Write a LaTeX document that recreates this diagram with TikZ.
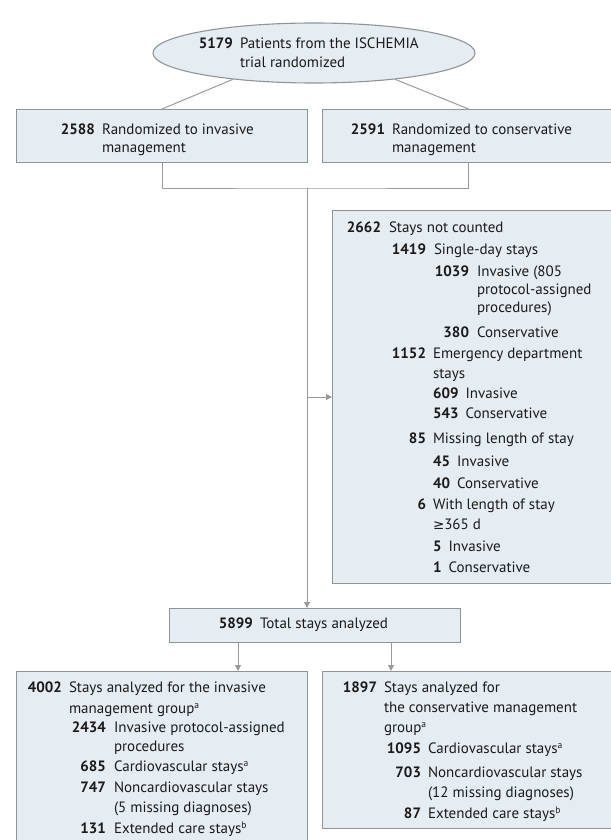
\documentclass[tikz,border=0pt]{standalone}
\usepackage{fontspec}
\setmainfont{PT Sans}
\newfontfamily\symfont{DejaVu Sans}
\usetikzlibrary{arrows.meta,shapes.geometric}
\definecolor{boxfill}{HTML}{E6EDF2}
\definecolor{boxline}{HTML}{8F9499}
\definecolor{conn}{HTML}{9A9A9A}
\definecolor{ink}{HTML}{1A1A1A}
\newcounter{tn}
% right-aligned number: #1 number end x, #2 text x, #3 baseline y, #4 number, #5 text
\newcommand\Rn[5]{\stepcounter{tn}%
  \node[txt,anchor=base east] (n\arabic{tn}) at (#1,#3) {\bfseries #4};%
  \node[txt,anchor=base west] (m\arabic{tn}) at (#2,#3) {#5};}
% left-aligned number: #1 number start x, #2 baseline y, #3 number, #4 text
\newcommand\Ln[4]{\stepcounter{tn}%
  \node[txt,anchor=base west] (n\arabic{tn}) at (#1,#2) {\bfseries #3};%
  \node[txt,anchor=base west,xshift=7pt] (m\arabic{tn}) at (n\arabic{tn}.base east) {#4};}
% plain continuation line
\newcommand\Tx[3]{\stepcounter{tn}%
  \node[txt,anchor=base west] (c\arabic{tn}) at (#1,#2) {#3};}
\newcommand\sups[1]{\raisebox{5pt}{\fontsize{9.5}{10}\selectfont #1}}
\begin{document}
\begin{tikzpicture}[x=1pt,y=-1pt,
  txt/.style={inner sep=0pt,outer sep=0pt,text=ink,font=\fontsize{15}{17}\selectfont},
  box/.style={draw=boxline,line width=1.1pt,fill=boxfill,inner sep=0pt,anchor=north west},
  conline/.style={draw=conn,line width=1pt},
  arr/.style={conline,-{Triangle[length=6pt,width=6pt]}}]
\useasboundingbox (0,0) rectangle (610,840);
% shapes
\node[ellipse,draw=boxline,line width=1.1pt,fill=boxfill,minimum width=322pt,minimum height=60pt,inner sep=0pt] (ell) at (314,53) {};
\node[box,minimum width=291pt,minimum height=53pt] (inv) at (16,109) {};
\node[box,minimum width=292pt,minimum height=53pt] (con) at (322,109) {};
\node[box,minimum width=282pt,minimum height=373pt] (excl) at (332,210) {};
\node[box,minimum width=291pt,minimum height=34pt] (tot) at (169,608) {};
\node[box,minimum width=291pt,minimum height=190pt] (binv) at (16,671) {};
\node[box,minimum width=292pt,minimum height=157pt] (bcon) at (322,671) {};
% connectors
\draw[conline] (ell.198) -- (inv.north);
\draw[conline] (ell.342) -- (con.north);
\coordinate (join) at (307,188);
\coordinate (branch) at (307,397);
\draw[conline] (inv.south) |- (join) -| (con.south);
\draw[arr] (join) -- (join |- tot.north);
\draw[arr] (branch) -- (branch -| excl.west);
\coordinate (la) at (238,0);
\coordinate (ra) at (391,0);
\draw[arr] (la |- tot.south) -- (la |- binv.north);
\draw[arr] (ra |- tot.south) -- (ra |- bcon.north);
% ellipse text
\Rn{233}{240}{48.5}{5179}{Patients from the ISCHEMIA}
\Tx{240}{67.5}{trial randomized}
% top boxes
\Rn{95}{102}{135}{2588}{Randomized to invasive}
\Tx{102}{153}{management}
\Rn{385}{392}{135}{2591}{Randomized to conservative}
\Tx{392}{153}{management}
% exclusion box
\Rn{381}{389}{232}{2662}{Stays not counted}
\Rn{426}{434}{254}{1419}{Single-day stays}
\Rn{469}{477}{276}{1039}{Invasive (805}
\Tx{477}{294}{protocol-assigned}
\Tx{477}{312}{procedures)}
\Rn{469}{477}{337}{380}{Conservative}
\Rn{426}{433}{358}{1152}{Emergency department}
\Tx{433}{378}{stays}
\Ln{433}{398}{609}{Invasive}
\Ln{433}{418}{543}{Conservative}
\Rn{426}{433}{443}{85}{Missing length of stay}
\Ln{433}{466}{45}{Invasive}
\Ln{433}{488}{40}{Conservative}
\Rn{426}{433}{509}{6}{With length of stay}
\Tx{433}{529}{{\symfont\fontsize{13.5}{15}\selectfont ≥}365 d}
\Ln{433}{551}{5}{Invasive}
\Ln{433}{572}{1}{Conservative}
% total
\Rn{253}{260}{628}{5899}{Total stays analyzed}
% bottom left
\Rn{62}{69}{692}{4002}{Stays analyzed for the invasive}
\Tx{69}{713}{management group\sups{a}}
\Rn{106}{114}{732}{2434}{Invasive protocol-assigned}
\Tx{114}{751}{procedures}
\Rn{106}{114}{771}{685}{Cardiovascular stays\sups{a}}
\Rn{106}{114}{792}{747}{Noncardiovascular stays}
\Tx{114}{812}{(5 missing diagnoses)}
\Rn{106}{114}{833}{131}{Extended care stays\sups{b}}
% bottom right
\Rn{377}{384}{692}{1897}{Stays analyzed for}
\Tx{384}{712}{the conservative management}
\Tx{384}{732}{group\sups{a}}
\Rn{421}{428}{753}{1095}{Cardiovascular stays\sups{a}}
\Rn{421}{428}{777}{703}{Noncardiovascular stays}
\Tx{428}{797}{(12 missing diagnoses)}
\Rn{421}{428}{818}{87}{Extended care stays\sups{b}}
\end{tikzpicture}
\end{document}
